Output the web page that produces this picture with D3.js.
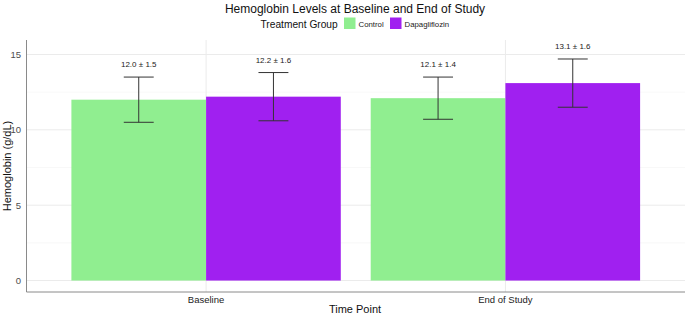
<!DOCTYPE html>
<html><head><meta charset="utf-8">
<script src="https://cdn.jsdelivr.net/npm/d3@7"></script>
<style>body{margin:0;background:#fff}svg{display:block;font-family:"Liberation Sans",Arial,sans-serif}</style>
</head><body><svg id="c" width="685" height="315"></svg>
<script>
const timePoints = ["Baseline", "End of Study"];
const groups = ["Control", "Dapagliflozin"];
const colors = ["#90EE90", "#A020F0"];
const controlMean = [12.0, 12.1];
const controlSD = [1.5, 1.4];
const dapaMean = [12.2, 13.1];
const dapaSD = [1.6, 1.6];
const yTicks = [0, 5, 10, 15];
const yMinor = [2.5, 7.5, 12.5];

const data = [];
timePoints.forEach((t, i) => {
  data.push({t, g: groups[0], m: controlMean[i], sd: controlSD[i]});
  data.push({t, g: groups[1], m: dapaMean[i], sd: dapaSD[i]});
});

const svg = d3.select("#c");
const L = 26.5, R = 685, T = 40, B = 292;
const y = d3.scaleLinear().domain([-0.76, 15.96]).range([B, T]);
// ggplot-like discrete axis: category centers with 0.6 expansion on each side
const x0 = d3.scalePoint().domain(timePoints).range([L + (R - L) * 0.6 / 2.2, R - (R - L) * 0.6 / 2.2]);
const unit = (R - L) / 2.2;
const bw = 0.45 * unit;
const x1 = d3.scaleBand().domain(groups).range([-bw, bw]);
const color = d3.scaleOrdinal().domain(groups).range(colors);

// grid
svg.append("g").selectAll("line").data(yMinor).join("line")
  .attr("x1", L).attr("x2", R).attr("y1", d => y(d)).attr("y2", d => y(d))
  .attr("stroke", "#f3f3f3").attr("stroke-width", 0.6);
svg.append("g").selectAll("line").data(yTicks).join("line")
  .attr("x1", L).attr("x2", R).attr("y1", d => y(d)).attr("y2", d => y(d))
  .attr("stroke", "#ebebeb").attr("stroke-width", 1);
svg.append("g").selectAll("line").data(timePoints).join("line")
  .attr("x1", d => x0(d)).attr("x2", d => x0(d)).attr("y1", T).attr("y2", B)
  .attr("stroke", "#ebebeb").attr("stroke-width", 1);

// bars
svg.append("g").selectAll("rect").data(data).join("rect")
  .attr("x", d => x0(d.t) + x1(d.g)).attr("width", x1.bandwidth())
  .attr("y", d => y(d.m)).attr("height", d => y(0) - y(d.m))
  .attr("fill", d => color(d.g));

// error bars
const eb = svg.append("g").attr("stroke", "#333").attr("stroke-width", 1).attr("fill", "none");
const capHalf = 0.05 * unit;
data.forEach(d => {
  const c = x0(d.t) + x1(d.g) + x1.bandwidth() / 2;
  eb.append("line").attr("x1", c).attr("x2", c).attr("y1", y(d.m - d.sd)).attr("y2", y(d.m + d.sd));
  eb.append("line").attr("x1", c - capHalf).attr("x2", c + capHalf).attr("y1", y(d.m + d.sd)).attr("y2", y(d.m + d.sd));
  eb.append("line").attr("x1", c - capHalf).attr("x2", c + capHalf).attr("y1", y(d.m - d.sd)).attr("y2", y(d.m - d.sd));
});
svg.append("g").selectAll("text").data(data).join("text")
  .attr("x", d => x0(d.t) + x1(d.g) + x1.bandwidth() / 2)
  .attr("y", d => y(d.m + d.sd + 0.66))
  .attr("text-anchor", "middle").attr("font-size", 8).attr("fill", "#222")
  .text(d => d.m.toFixed(1) + " \u00b1 " + d.sd.toFixed(1));

// axes lines
svg.append("line").attr("x1", L).attr("x2", L).attr("y1", T).attr("y2", B).attr("stroke", "#8a8a8a").attr("stroke-width", 1);
svg.append("line").attr("x1", L).attr("x2", R).attr("y1", B).attr("y2", B).attr("stroke", "#8a8a8a").attr("stroke-width", 1);

// tick labels
svg.append("g").selectAll("text").data(yTicks).join("text")
  .attr("x", 21).attr("y", d => y(d)).attr("dy", "0.35em")
  .attr("text-anchor", "end").attr("font-size", 9.5).attr("fill", "#4d4d4d").text(d => d);
svg.append("g").selectAll("text").data(timePoints).join("text")
  .attr("x", d => x0(d)).attr("y", 303)
  .attr("text-anchor", "middle").attr("font-size", 9.5).attr("fill", "#222").text(d => d);

// titles
svg.append("text").attr("x", 355).attr("y", 313).attr("text-anchor", "middle").attr("font-size", 11).attr("fill", "#111").text("Time Point");
svg.append("text").attr("transform", "translate(11,166) rotate(-90)").attr("text-anchor", "middle").attr("font-size", 11).attr("fill", "#111").text("Hemoglobin (g/dL)");
svg.append("text").attr("x", 355).attr("y", 13).attr("text-anchor", "middle").attr("font-size", 12).attr("fill", "#111").text("Hemoglobin Levels at Baseline and End of Study");

// legend
const lg = svg.append("g");
lg.append("text").attr("x", 260.5).attr("y", 27.5).attr("font-size", 10.2).attr("fill", "#111").text("Treatment Group");
const legX = [344, 390];
groups.forEach((g, i) => {
  lg.append("rect").attr("x", legX[i]).attr("y", 17.5).attr("width", 11.5).attr("height", 11.5).attr("fill", color(g));
  lg.append("text").attr("x", legX[i] + 14.5).attr("y", 26.5).attr("font-size", 7.8).attr("fill", "#222").text(g);
});
</script></body></html>
